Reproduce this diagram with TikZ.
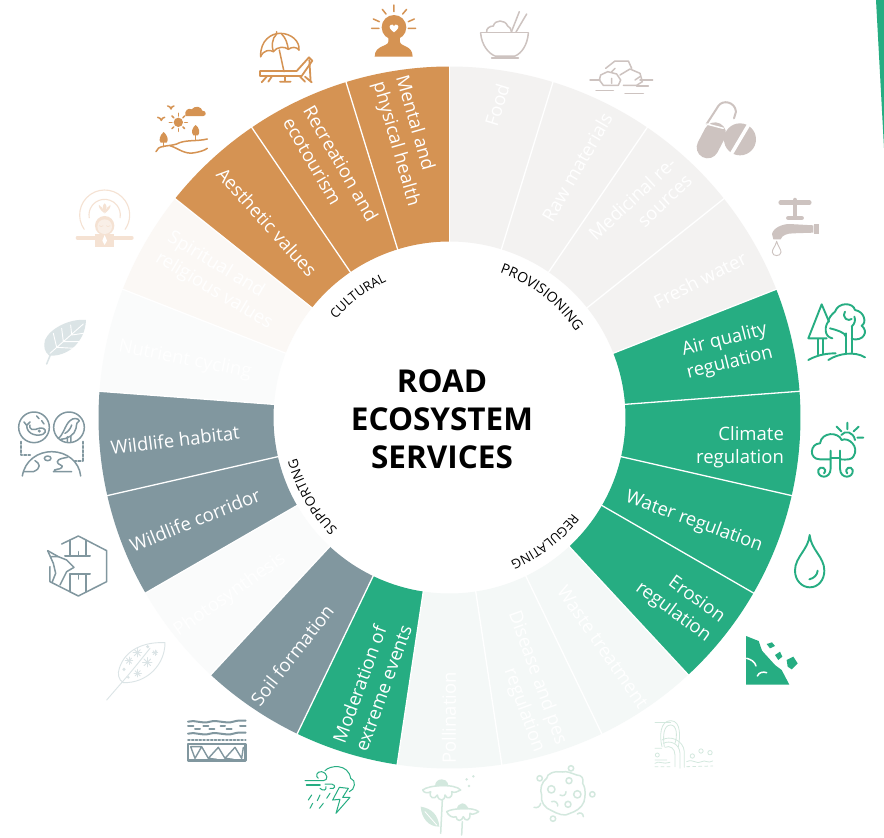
\documentclass[tikz,border=0pt]{standalone}
\usepackage{fontspec}
\setmainfont{Open Sans}
\usetikzlibrary{decorations.text}
\definecolor{pv}{HTML}{F3F2F1}
\definecolor{gr}{HTML}{26AD82}
\definecolor{fg}{HTML}{F4F8F7}
\definecolor{bl}{HTML}{81979F}
\definecolor{fs}{HTML}{FAFBFB}
\definecolor{fo}{HTML}{FBF8F5}
\definecolor{or}{HTML}{D59353}
\definecolor{ipv}{HTML}{CDC3C0}
\definecolor{ifg}{HTML}{D3E8DE}
\definecolor{ifo}{HTML}{F5E2D3}
\definecolor{ifs}{HTML}{DBE4E6}
\tikzset{
 z/.style 2 args={shift={(#1,#2)},x=.33333pt,y=-.33333pt},
 lab/.style={text=white,align=center,inner sep=0pt,font=\fontsize{18.5}{23.5}\selectfont},
 ic/.style={line width=#1,line cap=round,line join=round},
 ic/.default=1.2pt
}
\newcommand\curved[5]{\path[postaction={decorate,decoration={text along path,text align=center,text={|\fontsize{#5}{13}\selectfont|#1}}}] (#2:#4) arc (#2:#3:#4);}
\newcommand\spk[3]{\foreach \t in {0,45,90,135}{\draw ({#1+#3*cos(\t)},{#2+#3*sin(\t)}) -- ({#1-#3*cos(\t)},{#2-#3*sin(\t)});}}
\begin{document}
\begin{tikzpicture}[x=1pt,y=-1pt]
\useasboundingbox (0,0) rectangle (884,838);
\fill[white] (0,0) rectangle (884,838);
\fill[gr] (876,0)--(884,0)--(884,148)--cycle;
% wheel
\begin{scope}[shift={(449.5,417.5)},x=1pt,y=1pt]
\foreach \i/\c in {0/pv,1/pv,2/pv,3/pv,4/gr,5/gr,6/gr,7/gr,8/fg,9/fg,10/fg,11/gr,12/bl,13/fs,14/bl,15/bl,16/fs,17/fo,18/or,19/or,20/or}{
 \pgfmathsetmacro\ang{90-\i*360/21}
 \pgfmathsetmacro\angb{\ang-360/21}
 \fill[\c] (\ang:176) arc (\ang:\angb:176) -- (\angb:351) arc (\angb:\ang:351) -- cycle;
}
\foreach \i in {0,...,20}{
 \pgfmathsetmacro\ang{90-\i*360/21}
 \draw[white,line width=1.3pt] (\ang:175) -- (\ang:352);
}
\curved{PROVISIONING}{72}{33}{153}{14}
\curved{REGULATING}{-36}{-69}{156}{13}
\curved{SUPPORTING}{226}{194}{158}{13.3}
\curved{CULTURAL}{147}{107}{150}{13}
\end{scope}
% title
\node[name=title,align=center,inner sep=0pt,font=\fontsize{31.5}{38}\selectfont\bfseries] at (442,419) {ROAD\\ECOSYSTEM\\SERVICES};
% labels
\node[lab,rotate=73] (food) at (497,105) {Food};
\node[lab,rotate=60] (raw) at (577,167) {Raw materials};
\node[lab,rotate=43,align=right] (med) at (640,207) {Medicinal re-\\sources};
\node[lab,rotate=27] (fresh) at (700,280) {Fresh water};
\node[lab,rotate=14,align=right] (air) at (727,352) {Air quality\\regulation};
\node[lab,align=right] (clim) at (740,447) {Climate\\regulation};
\node[lab,rotate=-20] (wat) at (694,522) {Water regulation};
\node[lab,rotate=-36,align=right] (ero) at (680,603) {Erosion\\regulation};
\node[lab,rotate=-55] (waste) at (603,647) {Waste treatment};
\node[lab,rotate=-70,align=right] (dis) at (526,682) {Disease and pes\\regulation};
\node[lab,rotate=90] (pol) at (449,718) {Pollination};
\node[lab,rotate=70,align=left] (mod) at (372,684) {Moderation of\\extreme events};
\node[lab,rotate=52] (soil) at (292,655) {Soil formation};
\node[lab,rotate=35] (pho) at (230,595) {Photosynthesis};
\node[lab,rotate=22] (cor) at (195,520) {Wildlife corridor};
\node[lab,rotate=7] (hab) at (175,440) {Wildlife habitat};
\node[lab,rotate=-11] (nut) at (185,360) {Nutrient cycling};
\node[lab,rotate=-31,align=left] (spi) at (220,281) {Spiritual and\\religious values};
\node[lab,rotate=-48] (aes) at (267,222) {Aesthetic values};
\node[lab,rotate=-60,align=left] (rec) at (331,169) {Recreation and\\ecotourism};
\node[lab,rotate=-74,align=left] (men) at (407,141) {Mental and\\physical health};
% provisioning icons
\begin{scope}[z={440}{0},ipv,ic=1.5pt]
 \draw (122,98)--(265,98);
 \draw (122,100) .. controls (125,135) and (145,160) .. (165,168) -- (225,168) .. controls (245,160) and (262,135) .. (265,100);
 \draw (155,174)--(235,174);
 \draw (140,96) .. controls (138,85) and (150,78) .. (160,78) .. controls (165,58) and (195,58) .. (203,78) .. controls (210,80) and (213,88) .. (215,96);
 \draw (214,96)--(238,35) (228,96)--(260,42);
 \draw (450,240)--(480,240) (600,240)--(638,240) (468,272)--(520,272) (555,280)--(610,280) (590,258)--(625,258);
 \draw (482,225)--(503,215)--(530,222)--(542,240)--(535,256)--(490,256)--(478,240)--cycle;
 \draw (497,205)--(525,183)--(565,183)--(575,205);
 \draw (540,225)--(570,207)--(600,220)--(607,245)--(590,256)--(550,256);
 \draw (515,215)--(525,205) (515,235)--(515,250) (585,240)--(600,230);
 \draw[line width=2pt] (800,372)--(835,318) .. controls (848,298) and (885,305) .. (888,335) -- (882,355);
 \draw[line width=22pt] (803,442)--(825,400);
 \fill (900,418) circle [radius=48];
 \draw[white,line width=3.5pt,line cap=butt] (868,472)--(932,364);
 \draw[white,line width=1.5pt] (800,372)--(850,385);
 \draw[line width=4.5pt] (1022,608)--(1108,608);
 \draw[line width=4.5pt] (1065,600)--(1065,650);
 \draw[line width=4.5pt] (1045,654)--(1085,654);
 \fill (1000,718) -- (996,702) .. controls (1000,682) and (1030,672) .. (1048,672) -- (1120,676) -- (1120,698) -- (1060,700) .. controls (1040,700) and (1026,706) .. (1022,718) -- cycle;
 \fill (1123,672) rectangle (1136,701);
 \draw[line width=.9pt] (1010,724) .. controls (1006,740) and (996,748) .. (997,757) .. controls (998,770) and (1022,770) .. (1023,757) .. controls (1024,748) and (1014,740) .. (1010,724);
\end{scope}
% trees
\begin{scope}[z={795}{295},gr,ic=1.9pt]
 \draw (80,28)--(40,130)--(95,130) (80,28)--(102,80);
 \draw (70,133)--(70,178) (85,133)--(85,178);
 \draw (40,195) .. controls (70,178) and (100,175) .. (122,175);
 \draw (100,195) .. controls (130,175) and (180,168) .. (210,187);
 \draw (112,130) .. controls (85,125) and (90,90) .. (100,80) .. controls (100,70) and (110,58) .. (120,50) .. controls (130,20) and (175,22) .. (180,45) .. controls (210,50) and (215,85) .. (200,92) .. controls (222,110) and (205,140) .. (170,132);
 \draw (153,115)--(153,175) (170,95)--(170,172);
 \draw (150,50) .. controls (140,70) and (160,80) .. (170,72) (105,100) .. controls (125,105) and (150,112) .. (153,125) (170,95) .. controls (180,85) and (182,75) .. (178,65);
\end{scope}
% regulating icons, right
\begin{scope}[z={440}{300},gr,ic=1.9pt]
 \draw (1222,368)--(1222,388) (1190,380)--(1204,394) (1256,380)--(1241,394) (1252,413)--(1270,413);
 \draw (1204,405) .. controls (1215,390) and (1240,395) .. (1245,420);
 \draw (1170,478) -- (1140,478) .. controls (1105,478) and (1110,430) .. (1140,430) .. controls (1145,395) and (1195,395) .. (1205,420) .. controls (1225,410) and (1260,440) .. (1240,470) .. controls (1235,478) and (1225,480) .. (1200,478);
 \draw (1172,452)--(1172,505) .. controls (1172,540) and (1130,535) .. (1135,510) .. controls (1140,495) and (1165,505) .. (1152,520);
 \draw (1200,452)--(1200,505) .. controls (1200,540) and (1242,535) .. (1238,510) .. controls (1234,495) and (1210,505) .. (1222,520);
 \draw (1172,475)--(1200,475);
 \draw (1109,705) .. controls (1105,750) and (1065,770) .. (1065,812) .. controls (1065,840) and (1085,862) .. (1109,862) .. controls (1135,862) and (1153,840) .. (1153,812) .. controls (1153,770) and (1113,750) .. (1109,705) -- cycle;
 \draw (1108,838) .. controls (1122,835) and (1132,825) .. (1133,812);
\end{scope}
% lower right icons
\begin{scope}[z={400}{560},gr,ic=1pt]
 \fill (1038,228) -- (1076,243) -- (1086,272) -- (1125,315) -- (1145,330) -- (1168,374) -- (1038,374) -- cycle;
 \draw[white,line width=1.5pt] (1040,295) .. controls (1052,298) and (1065,305) .. (1068,318) (1072,348) .. controls (1078,335) and (1090,335) .. (1100,338);
 \fill (1100,252)--(1116,247)--(1125,258)--(1110,265)--cycle (1125,285)--(1140,275)--(1147,290)--(1135,300)--cycle (1160,300)--(1180,290)--(1193,310)--(1175,328)--(1163,320)--cycle;
 \begin{scope}[ifg,line width=.8pt]
  \draw (765,487)--(812,487);
  \draw (786,560) .. controls (778,530) and (780,482) .. (812,482) .. controls (845,482) and (840,535) .. (835,560);
  \draw (793,560) .. controls (788,530) and (790,495) .. (812,495) .. controls (832,495) and (832,530) .. (825,550);
  \draw (786,540) .. controls (810,525) and (850,540) .. (853,575) -- (853,622);
  \draw (790,550) .. controls (810,540) and (838,550) .. (840,580) -- (840,625);
  \draw (795,562) .. controls (810,555) and (825,565) .. (825,585) -- (825,620);
  \draw (765,565)--(785,565) (765,600)--(800,600) (860,605) .. controls (880,595) and (890,615) .. (905,605) .. controls (915,598) and (925,612) .. (938,603);
  \draw (765,610) .. controls (775,600) and (790,615) .. (810,607);
  \draw[dashed] (765,620)--(815,620) (860,620)--(938,618);
  \draw (877,588) circle [radius=6.5] (903,573) circle [radius=6.5] (930,578) circle [radius=6.5] (772,585) circle [radius=6];
 \end{scope}
 \begin{scope}[ifg,line width=1.5pt]
  \draw (487,636) .. controls (500,632) and (515,640) .. (530,645) .. controls (545,645) and (552,655) .. (548,670) .. controls (560,690) and (555,710) .. (552,725) .. controls (545,745) and (525,755) .. (510,760) .. controls (495,772) and (470,760) .. (455,752) .. controls (435,745) and (420,725) .. (425,705) .. controls (418,690) and (425,665) .. (440,655) .. controls (440,640) and (465,632) .. (487,636) -- cycle;
  \draw (454,688) circle [radius=11] (507,662) circle [radius=9] (532,703) circle [radius=11] (504,733) circle [radius=9] (419,655) circle [radius=8] (513,625) circle [radius=8] (577,703) circle [radius=8] (459,776) circle [radius=8];
  \draw (480,705) .. controls (490,710) and (498,705) .. (498,695) (455,725) .. controls (465,720) and (475,730) .. (473,738) (402,742) .. controls (412,745) and (420,740) .. (422,730) (532,762) .. controls (540,755) and (550,760) .. (550,770);
  \draw (127,720)--(122,820) (187,785)--(185,825);
  \fill (62,740) .. controls (95,745) and (115,765) .. (118,800) .. controls (85,800) and (65,775) .. (62,740) -- cycle;
  \draw[white,line width=.8pt] (75,755)--(110,795);
  \draw (68,690) .. controls (85,675) and (165,670) .. (182,690) .. controls (170,695) and (165,700) .. (155,695) .. controls (160,715) and (140,720) .. (135,705) .. controls (135,725) and (115,725) .. (112,705) .. controls (105,720) and (85,715) .. (92,695) .. controls (85,700) and (72,700) .. (68,690);
  \fill (125,658) .. controls (145,658) and (145,678) .. (145,678) -- (105,678) .. controls (105,665) and (115,658) .. (125,658) -- cycle;
  \draw (140,755) .. controls (155,745) and (220,740) .. (236,755) .. controls (225,762) and (215,765) .. (210,760) .. controls (212,785) and (195,785) .. (190,770) .. controls (185,785) and (170,785) .. (168,770) .. controls (160,775) and (145,768) .. (140,755);
  \fill (187,730) .. controls (200,730) and (205,745) .. (205,748) -- (170,748) .. controls (172,738) and (178,730) .. (187,730) -- cycle;
  \fill (220,649) circle [radius=4] (200,658) circle [radius=4] (207,678) circle [radius=4];
 \end{scope}
\end{scope}
% storm and soil
\begin{scope}[z={180}{710},ic=1.3pt]
 \begin{scope}[gr,line width=1pt]
  \draw (435,182) .. controls (450,165) and (505,160) .. (512,205) .. controls (530,210) and (525,240) .. (508,245);
  \draw (375,212)--(430,212) .. controls (445,212) and (445,190) .. (425,185) .. controls (410,183) and (405,200) .. (415,205);
  \draw (420,235) .. controls (430,245) and (440,240) .. (438,230) (435,222) -- (455,222) .. controls (470,225) and (465,240) .. (450,235);
  \draw[line width=1.8pt] (380,224)--(420,224);
  \draw (478,232)--(458,270)--(480,268)--(468,310)--(510,262)--(488,262)--(505,235)--cycle;
  \draw (395,255)--(385,270) (420,255)--(412,272) (450,250)--(440,265) (398,280)--(390,295) (430,280)--(418,295);
 \end{scope}
 \begin{scope}[bl,line width=2pt]
  \draw (24,35) .. controls (45,28) and (65,43) .. (90,35) .. controls (115,28) and (135,43) .. (160,35) .. controls (175,30) and (185,32) .. (197,32);
  \draw (24,71) .. controls (45,64) and (65,79) .. (90,71) .. controls (115,64) and (135,79) .. (160,71) .. controls (175,66) and (185,68) .. (197,68);
  \draw (24,48)--(40,48) (70,48)--(85,48) (122,48)--(135,48) (180,48)--(197,48) (45,58)--(60,58) (88,58)--(103,58) (140,58)--(155,58);
  \draw[line width=1.8pt,dotted] (24,90)--(197,90);
  \draw[line width=2.4pt] (24,102)--(24,152)--(197,152)--(197,102)--cycle;
  \draw[line width=1.4pt] (32,110)--(65,110)--(45,145)--(32,110) (65,110)--(85,145)--(115,112)--(135,145)--(165,112)--(185,145)--(190,112) (85,145)--(110,148) (135,145)--(160,148);
 \end{scope}
\end{scope}
% photosynthesis leaf
\begin{scope}[z={0}{340},ic=1.3pt]
 \begin{scope}[ifs,line width=.9pt]
  \draw (495,908) .. controls (430,905) and (375,930) .. (358,985) .. controls (352,1000) and (355,1020) .. (370,1028) .. controls (440,1030) and (495,975) .. (495,908) -- cycle;
  \draw (320,1080)--(385,1005) .. controls (410,975) and (430,950) .. (450,925);
  \spk{412}{938}{13} \spk{387}{962}{11} \spk{442}{967}{14} \spk{413}{1000}{11} \spk{465}{938}{8}
  \fill (443,920) circle [radius=5] (372,988) circle [radius=5] (385,1012) circle [radius=4];
 \end{scope}
\end{scope}
% habitat and corridor
\begin{scope}[z={10}{400},bl,ic=1.5pt]
 \draw (72,82) circle [radius=46] (177,82) circle [radius=46];
 \draw (42,66)--(50,76)--(60,66) (50,76) .. controls (50,105) and (85,110) .. (100,102) .. controls (112,95) and (105,82) .. (90,84) .. controls (80,85) and (75,92) .. (65,88) .. controls (60,86) and (58,80) .. (60,75);
 \fill (88,93) circle [radius=5];
 \draw (80,48)--(87,56) (95,62)--(102,72);
 \draw (145,115) .. controls (160,105) and (165,75) .. (180,62) .. controls (190,52) and (205,55) .. (208,62) .. controls (200,65) and (200,72) .. (198,85) .. controls (195,105) and (170,118) .. (152,118);
 \draw (172,110)--(172,126) (183,108)--(183,126) (165,100) .. controls (175,95) and (182,85) .. (185,75);
 \draw[line width=2.2pt,dotted] (32,125)--(32,165)--(60,165) (218,125)--(218,182)--(195,182);
 \draw (37,228) .. controls (45,180) and (85,155) .. (125,155) .. controls (170,155) and (208,185) .. (212,228);
 \draw (42,215)--(70,215) .. controls (95,205) and (90,190) .. (75,182) (130,215)--(185,215) (132,215) .. controls (130,205) and (150,210) .. (155,203) .. controls (165,195) and (140,195) .. (142,185) .. controls (145,175) and (160,175) .. (172,172);
 \draw (113,175) ellipse [x radius=10,y radius=7];
 \draw (155,432)--(205,408)--(290,452)--(290,545)--(205,588)--(120,545)--(120,500);
 \draw (180,420)--(180,468) (228,420)--(228,468) (180,522)--(180,575) (228,522)--(228,575);
 \draw[line width=2pt] (165,468)--(240,468) (180,522)--(240,522);
 \draw (205,455)--(205,468) (205,522)--(205,537);
 \draw (113,452)--(145,470)--(170,480)--(192,502)--(170,515)--(150,555);
 \draw (113,452)--(130,490)--(137,520)--(127,545) (145,470)--(125,470);
\end{scope}
% cultural icons, nutrient leaf
\begin{scope}[z={0}{0},or,ic=1.5pt]
 \draw (782,170) .. controls (780,120) and (815,100) .. (840,100) .. controls (875,100) and (900,125) .. (897,150);
 \draw (782,170) .. controls (790,150) and (810,148) .. (820,155) .. controls (830,140) and (855,138) .. (865,148) .. controls (875,140) and (890,140) .. (897,150);
 \draw (830,98)--(830,95) (830,102) .. controls (815,115) and (815,140) .. (820,155) (845,102) .. controls (858,115) and (862,130) .. (865,148);
 \draw (838,150)--(852,215);
 \draw[line width=1.8pt] (780,213)--(890,213)--(927,172)--(937,182)--(905,228)--(780,228)--cycle;
 \draw[line width=1.8pt] (800,230)--(785,247) (815,230)--(805,245) (915,230)--(935,247) (900,230)--(915,245) (840,245)--(872,245) (855,230)--(855,245) (928,180)--(932,245);
 \fill (1182,82) circle [radius=37];
 \fill (1165,105) -- (1200,105) -- (1200,125) .. controls (1200,140) and (1238,135) .. (1238,170) -- (1124,170) .. controls (1124,135) and (1165,140) .. (1165,125) -- cycle;
 \fill[white] (1182,97) .. controls (1170,88) and (1165,80) .. (1172,75) .. controls (1176,72) and (1180,74) .. (1182,78) .. controls (1184,74) and (1188,72) .. (1192,75) .. controls (1199,80) and (1194,88) .. (1182,97) -- cycle;
 \draw (1182,15)--(1182,35) (1147,28)--(1158,42) (1220,28)--(1208,42) (1120,57)--(1138,65) (1243,57)--(1225,65) (1115,85)--(1137,85) (1247,85)--(1225,85);
 \fill (535,367) circle [radius=14];
 \foreach \t in {0,45,...,315}{\draw ({535+19*cos(\t)},{367+19*sin(\t)}) -- ({535+27*cos(\t)},{367+27*sin(\t)});}
 \fill (556,348) .. controls (552,332) and (565,322) .. (575,328) .. controls (585,315) and (605,320) .. (607,332) .. controls (620,332) and (620,348) .. (610,348) -- cycle;
 \draw (503,318) .. controls (508,318) and (512,322) .. (513,327) .. controls (514,322) and (518,318) .. (522,318);
 \draw (473,352) .. controls (478,352) and (482,356) .. (484,361) .. controls (485,356) and (489,352) .. (494,352);
 \fill (491,396) .. controls (480,405) and (475,420) .. (482,428) -- (500,428) .. controls (507,420) and (502,405) .. (491,396) -- cycle;
 \fill (587,375) .. controls (577,382) and (572,398) .. (580,406) -- (594,406) .. controls (602,398) and (597,382) .. (587,375) -- cycle;
 \draw (491,425)--(491,440) (587,405)--(587,420);
 \draw (468,455) .. controls (472,435) and (505,440) .. (530,432) .. controls (555,418) and (590,425) .. (622,417);
 \draw (510,437) .. controls (535,445) and (555,465) .. (585,458) .. controls (600,455) and (612,452) .. (622,445);
 \begin{scope}[ifo,line width=1.1pt]
  \draw (314,645) ++(145:75) arc (145:395:75);
  \draw (314,645) ++(170:47) arc (170:370:47);
  \fill (314,640) .. controls (300,630) and (295,620) .. (297,615) .. controls (303,618) and (310,625) .. (314,640) -- cycle;
  \fill (314,640) .. controls (328,630) and (333,620) .. (331,615) .. controls (325,618) and (318,625) .. (314,640) -- cycle;
  \fill (314,638) .. controls (305,625) and (308,615) .. (314,610) .. controls (320,615) and (323,625) .. (314,638) -- cycle;
  \fill (314,677) circle [radius=29];
  \fill[white!45!ifo] (314,680) circle [radius=22];
  \fill (286,702) rectangle (342,740);
  \draw[line width=4pt] (233,713)--(395,713);
  \fill[white] (314,705)--(321,722)--(314,735)--(307,722)--cycle;
  \draw[ifo,line width=.7pt] (298,677) .. controls (302,681) and (306,681) .. (309,677) (319,677) .. controls (322,681) and (326,681) .. (330,677);
 \end{scope}
 \begin{scope}[ifs]
  \fill (258,960) .. controls (210,955) and (150,985) .. (135,1020) .. controls (130,1040) and (133,1055) .. (148,1067) .. controls (200,1070) and (255,1030) .. (258,960) -- cycle;
  \draw (155,1055)--(140,1092);
  \draw[white,line width=.9pt] (150,1060)--(250,972) (170,1042)--(160,1000) (190,1025)--(185,985) (215,1005)--(212,975) (170,1042)--(225,1045) (190,1025)--(240,1025) (215,1005)--(250,1000);
 \end{scope}
\end{scope}
\end{tikzpicture}
\end{document}
